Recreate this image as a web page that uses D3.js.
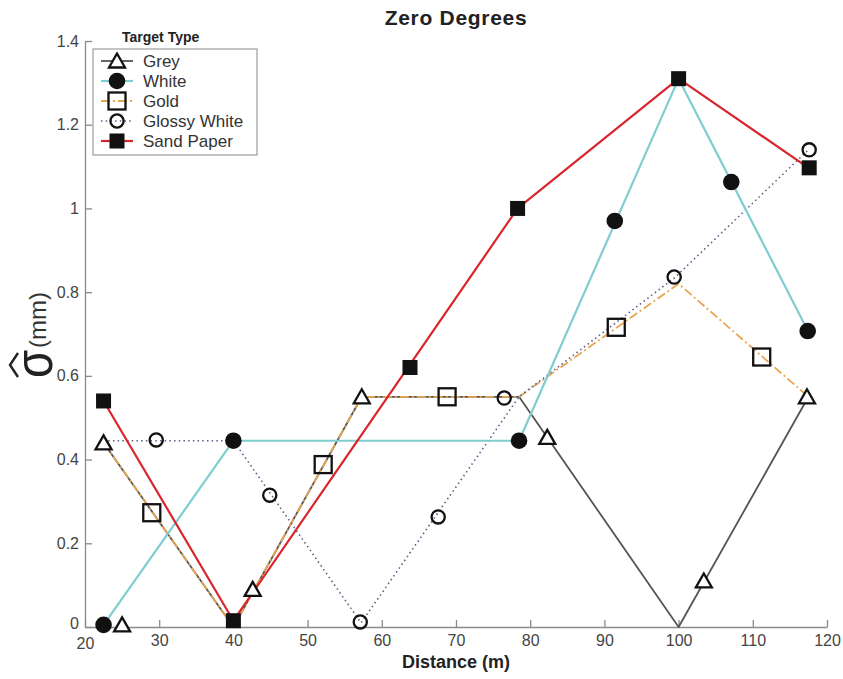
<!DOCTYPE html>
<html>
<head>
<meta charset="utf-8">
<script src="https://cdn.jsdelivr.net/npm/d3@7"></script>
<style>
  body { margin: 0; background: #fff; }
  text { font-family: "Liberation Sans", Arial, sans-serif; }
</style>
</head>
<body>
<div id="chart"></div>
<script>
(function() {
  'use strict'

  // Data //
  var seriesNames = ["Grey", "White", "Gold", "Glossy White", "Sand Paper"]

  var greyLine = [[22.5, 0.44], [40, 0], [57.3, 0.55], [78.5, 0.55], [100, 0], [117.5, 0.55]]
  var greyMarks = [[22.5, 0.44], [25, 0.005], [42.6, 0.09], [57.3, 0.55], [82.3, 0.453], [103.4, 0.11], [117.3, 0.55]]

  var whiteLine = [[22.5, 0.005], [40, 0.445], [78.5, 0.445], [100, 1.31], [117.5, 0.705]]
  var whiteMarks = [[22.5, 0.005], [40, 0.445], [78.5, 0.445], [91.4, 0.97], [107.1, 1.063], [117.4, 0.707]]

  var goldLine = [[22.5, 0.44], [40, 0], [57.3, 0.55], [78.5, 0.55], [100, 0.82], [117.5, 0.55]]
  var goldMarks = [[29, 0.273], [52.1, 0.388], [68.8, 0.55], [91.6, 0.716], [111.2, 0.645]]

  var glossyLine = [[22.5, 0.445], [40, 0.445], [57.2, 0.01], [78.5, 0.55], [99.5, 0.835], [117.5, 1.14]]
  var glossyMarks = [[29.6, 0.447], [44.9, 0.315], [57.1, 0.012], [67.6, 0.263], [76.5, 0.547], [99.4, 0.836], [117.6, 1.14]]

  var sandLine = [[22.5, 0.54], [40, 0.015], [78.3, 1.0], [100, 1.31], [117.5, 1.097]]
  var sandMarks = [[22.5, 0.54], [40, 0.015], [63.8, 0.62], [78.3, 1.0], [100, 1.31], [117.6, 1.097]]

  var xTicks = [20, 30, 40, 50, 60, 70, 80, 90, 100, 110, 120]
  var yTicks = [0, 0.2, 0.4, 0.6, 0.8, 1, 1.2, 1.4]

  // SVG Setup //
  var width = 843,
      height = 679,
      margin = {top: 41, right: 16, bottom: 52, left: 85}

  var svg = d3.select("#chart").append("svg")
    .attr("width", width)
    .attr("height", height)

  var x = d3.scaleLinear().domain([20, 120]).range([margin.left, width - margin.right])
  var y = d3.scaleLinear().domain([0, 1.4]).range([height - margin.bottom, margin.top])

  // Axes //
  var axisColor = "#8a8a8a"
  var xAxis = svg.append("g")
    .attr("transform", "translate(0," + y(0) + ")")
    .call(d3.axisBottom(x).tickValues(xTicks).tickSizeInner(-7).tickSizeOuter(0).tickPadding(5))
  var yAxis = svg.append("g")
    .attr("transform", "translate(" + x(20) + ",0)")
    .call(d3.axisLeft(y).tickValues(yTicks).tickSizeInner(-7).tickSizeOuter(0).tickPadding(6)
      .tickFormat(function(d) { return d3.format("~g")(d) }))

  ;[xAxis, yAxis].forEach(function(a) {
    a.select(".domain").attr("stroke", axisColor).attr("stroke-width", 1.3)
    a.selectAll(".tick line").attr("stroke", axisColor).attr("stroke-width", 1.3)
    a.selectAll(".tick text").attr("fill", "#444").style("font-size", "16px")
  })
  xAxis.selectAll(".tick text").attr("dy", "0.9em")
  xAxis.selectAll(".tick text").filter(function(d) { return d === 20 }).attr("dy", "1.05em")
  yAxis.selectAll(".tick text").filter(function(d) { return d === 0 }).attr("dy", "0.1em")

  // Titles //
  svg.append("text")
    .attr("x", (x(20) + x(120)) / 2)
    .attr("y", 25)
    .attr("text-anchor", "middle")
    .style("font-size", "21px")
    .style("font-weight", "bold")
    .style("letter-spacing", "0.7px")
    .attr("fill", "#222")
    .text("Zero Degrees")

  svg.append("text")
    .attr("x", (x(20) + x(120)) / 2)
    .attr("y", 668)
    .attr("text-anchor", "middle")
    .style("font-size", "18px")
    .style("font-weight", "bold")
    .attr("fill", "#222")
    .text("Distance (m)")

  var yLab = svg.append("g").attr("transform", "translate(52,378) rotate(-90)")
  yLab.append("text")
    .attr("x", 0)
    .attr("y", 0)
    .attr("transform", "scale(0.85,1)")
    .style("font-size", "54px")
    .attr("fill", "#222")
    .text("σ")
  yLab.append("path")
    .attr("d", "M1,-34 L13,-42 L25,-34")
    .attr("fill", "none")
    .attr("stroke", "#222")
    .attr("stroke-width", 2.4)
  yLab.append("text")
    .attr("x", 30)
    .attr("y", -6)
    .style("font-size", "24px")
    .attr("fill", "#333")
    .text("(mm)")

  // Series //
  var series = [
    {name: "Grey", line: greyLine, marks: greyMarks, color: "#555555", width: 1.8, dash: null, marker: "triangle"},
    {name: "Gold", line: goldLine, marks: goldMarks, color: "#e8a550", width: 1.8, dash: "9,3,2,3", marker: "square"},
    {name: "Glossy White", line: glossyLine, marks: glossyMarks, color: "#5c5f86", width: 1.6, dash: "1.5,3.2", marker: "circle"},
    {name: "White", line: whiteLine, marks: whiteMarks, color: "#7fcdd1", width: 2.2, dash: null, marker: "dot"},
    {name: "Sand Paper", line: sandLine, marks: sandMarks, color: "#d8262c", width: 2.2, dash: null, marker: "filledSquare"}
  ]

  var line = d3.line()
    .x(function(d) { return x(d[0]) })
    .y(function(d) { return y(d[1]) })

  series.forEach(function(s) {
    svg.append("path")
      .datum(s.line)
      .attr("d", line)
      .attr("fill", "none")
      .attr("stroke", s.color)
      .attr("stroke-width", s.width)
      .attr("stroke-dasharray", s.dash)
      .attr("stroke-linejoin", "round")
  })

  function drawMarker(g, type, cx, cy) {
    if (type === "triangle") {
      g.append("path")
        .attr("d", "M" + cx + "," + (cy - 7.5) + " L" + (cx + 8) + "," + (cy + 6.5) + " L" + (cx - 8) + "," + (cy + 6.5) + " Z")
        .attr("fill", "#fff").attr("stroke", "#111").attr("stroke-width", 2.3).attr("stroke-linejoin", "miter")
    } else if (type === "dot") {
      g.append("circle").attr("cx", cx).attr("cy", cy).attr("r", 8.3).attr("fill", "#111")
    } else if (type === "square") {
      g.append("rect").attr("x", cx - 8.5).attr("y", cy - 8.5).attr("width", 17).attr("height", 17)
        .attr("fill", "none").attr("stroke", "#111").attr("stroke-width", 2.3)
    } else if (type === "circle") {
      g.append("circle").attr("cx", cx).attr("cy", cy).attr("r", 6.6)
        .attr("fill", "none").attr("stroke", "#111").attr("stroke-width", 2.3)
    } else if (type === "filledSquare") {
      g.append("rect").attr("x", cx - 7.5).attr("y", cy - 7.5).attr("width", 15).attr("height", 15).attr("fill", "#111")
    }
  }

  var markLayer = svg.append("g")
  series.forEach(function(s) {
    s.marks.forEach(function(d) {
      drawMarker(markLayer, s.marker, x(d[0]), y(d[1]))
    })
  })

  // Legend //
  var legend = svg.append("g").attr("transform", "translate(93,49)")
  svg.append("text")
    .attr("x", 122)
    .attr("y", 42)
    .style("font-size", "14px")
    .style("font-weight", "bold")
    .attr("fill", "#222")
    .text("Target Type")
  legend.append("rect")
    .attr("width", 164)
    .attr("height", 106)
    .attr("fill", "#fff")
    .attr("stroke", "#888")
    .attr("stroke-width", 1)

  var byName = {}
  series.forEach(function(s) { byName[s.name] = s })
  seriesNames.forEach(function(n, i) {
    var s = byName[n]
    var ly = 12 + i * 20
    legend.append("line")
      .attr("x1", 8).attr("x2", 40).attr("y1", ly).attr("y2", ly)
      .attr("stroke", s.color).attr("stroke-width", s.width)
      .attr("stroke-dasharray", s.dash)
    drawMarker(legend, s.marker, 24, ly)
    legend.append("text")
      .attr("x", 50)
      .attr("y", ly + 6)
      .style("font-size", "17px")
      .attr("fill", "#333")
      .text(n)
  })
})()
</script>
</body>
</html>
